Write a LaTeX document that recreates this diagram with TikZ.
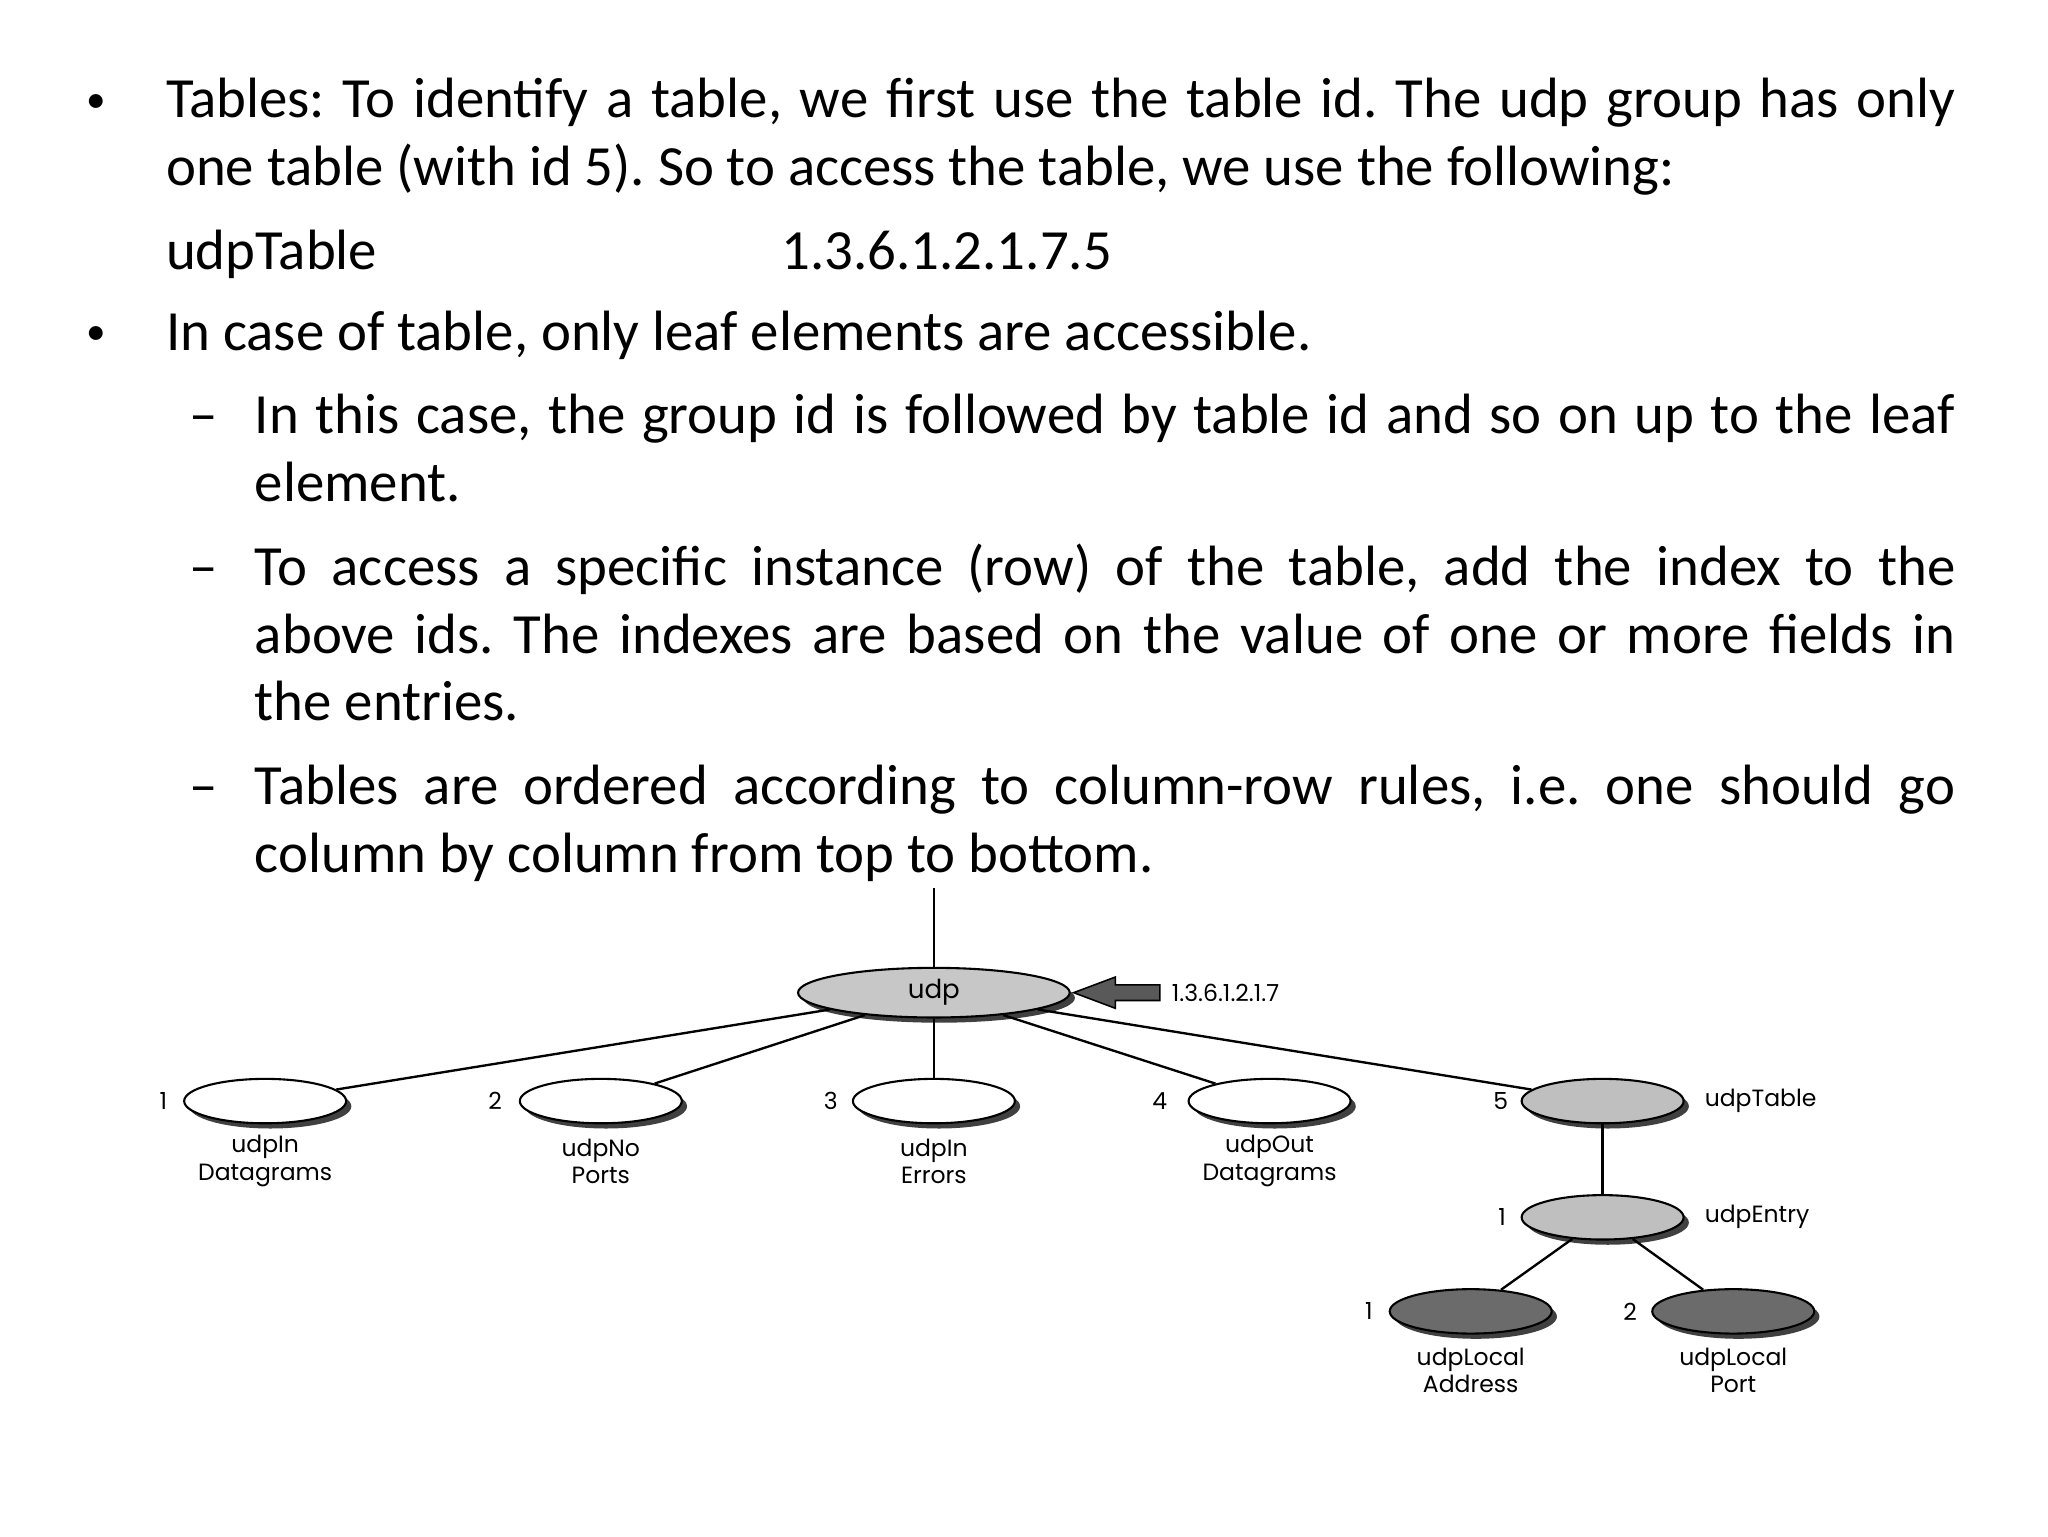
\documentclass[tikz,border=0pt]{standalone}
\usepackage{fontspec}
\setmainfont{Carlito}
\newfontfamily\dg{Poppins}
\usetikzlibrary{shapes.geometric,shadows}
\begin{document}
\frenchspacing
\begin{tikzpicture}[x=1pt,y=-1pt,
  txt/.style={anchor=base west,inner sep=0pt,font=\fontsize{43.5}{50}\selectfont},
  el/.style={ellipse,draw=black,line width=1.6pt,inner sep=0pt,
    drop shadow={shadow xshift=4pt,shadow yshift=-4pt,fill=black!75,opacity=1}},
  big/.style={el,minimum width=208pt,minimum height=38pt,fill=black!22},
  kid/.style={el,minimum width=124pt,minimum height=34pt,fill=white},
  lgt/.style={kid,fill=black!25},
  drk/.style={kid,fill=black!58},
  lab/.style={inner sep=0pt,font=\dg\fontsize{18}{21}\selectfont,align=center},
  edge/.style={line width=1.8pt}]
\useasboundingbox (0,0) rectangle (1568,1176);
\def\W{1370pt}
\def\V{1302pt}
% text
\node[txt,font=\fontsize{30}{30}\selectfont] (b1) at (66,86) {•};
\node[txt] (l1) at (127,90) {\makebox[\W][s]{Tables: To identify a table, we first use the table id. The udp group has only}};
\node[txt] (l2) at (127,142) {one table (with id 5). So to access the table, we use the following:};
\node[txt] (l3) at (127,206) {udpTable};
\node[txt] (l3b) at (598,206) {1.3.6.1.2.1.7.5};
\node[txt,font=\fontsize{30}{30}\selectfont] (b2) at (66,264) {•};
\node[txt] (l4) at (127,268) {In case of table, only leaf elements are accessible.};
\node[txt] (d1) at (145,332) {–};
\node[txt] (l5) at (195,332) {\makebox[\V][s]{In this case, the group id is followed by table id and so on up to the leaf}};
\node[txt] (l6) at (195,384) {element.};
\node[txt] (d2) at (145,448) {–};
\node[txt] (l7) at (195,448) {\makebox[\V][s]{To access a specific instance (row) of the table, add the index to the}};
\node[txt] (l8) at (195,500) {\makebox[\V][s]{above ids. The indexes are based on the value of one or more fields in}};
\node[txt] (l9) at (195,552) {the entries.};
\node[txt] (d3) at (145,616) {–};
\node[txt] (l10) at (195,616) {\makebox[\V][s]{Tables are ordered according to column-row rules, i.e. one should go}};
\node[txt] (l11) at (195,668) {column by column from top to bottom.};
% diagram
\coordinate (top) at (715,680);
\node[big] (udp) at (715,760) {};
\node[lab,font=\dg\fontsize{20}{22}\selectfont] at (udp) {udp};
\node[kid] (c1) at (203,843) {};
\node[kid] (c2) at (460,843) {};
\node[kid] (c3) at (715,843) {};
\node[kid] (c4) at (972,843) {};
\node[lgt] (c5) at (1227,843) {};
\node[lgt] (en) at (1227,932) {};
\node[drk] (a1) at (1126,1004) {};
\node[drk] (a2) at (1327,1004) {};
\draw[edge] (top) -- (udp.north);
\draw[edge] (udp.south) -- (c3.north);
\draw[edge] (udp) -- (c1);
\draw[edge] (udp) -- (c2);
\draw[edge] (udp) -- (c4);
\draw[edge] (udp) -- (c5);
\draw[edge] (c5.south) -- (en.north);
\draw[edge] (en) -- (a1);
\draw[edge] (en) -- (a2);
% arrow
\coordinate (tip) at (822,760);
\draw[line width=1.2pt,fill=black!65] (tip) -- ++(32,-12) -- ++(0,6) -- ++(34,0) -- ++(0,12) -- ++(-34,0) -- ++(0,6) -- cycle;
\node[lab,anchor=west] (oid) at (897,760) {1.3.6.1.2.1.7};
% numbers
\node[lab] at (125,843) {1};
\node[lab] at (379,843) {2};
\node[lab] at (636,843) {3};
\node[lab] at (888,843) {4};
\node[lab] at (1149,843) {5};
\node[lab] at (1150,932) {1};
\node[lab] at (1048,1004) {1};
\node[lab] at (1248,1004) {2};
\node[lab,anchor=west] at (1305,843) {udpTable};
\node[lab,anchor=west] at (1305,932) {udpEntry};
% labels
\node[lab] at (203,889) {udpIn\\Datagrams};
\node[lab] at (460,889) {udpNo\\Ports};
\node[lab] at (715,889) {udpIn\\Errors};
\node[lab] at (972,889) {udpOut\\Datagrams};
\node[lab] at (1126,1049) {udpLocal\\Address};
\node[lab] at (1327,1049) {udpLocal\\Port};
\end{tikzpicture}
\end{document}
